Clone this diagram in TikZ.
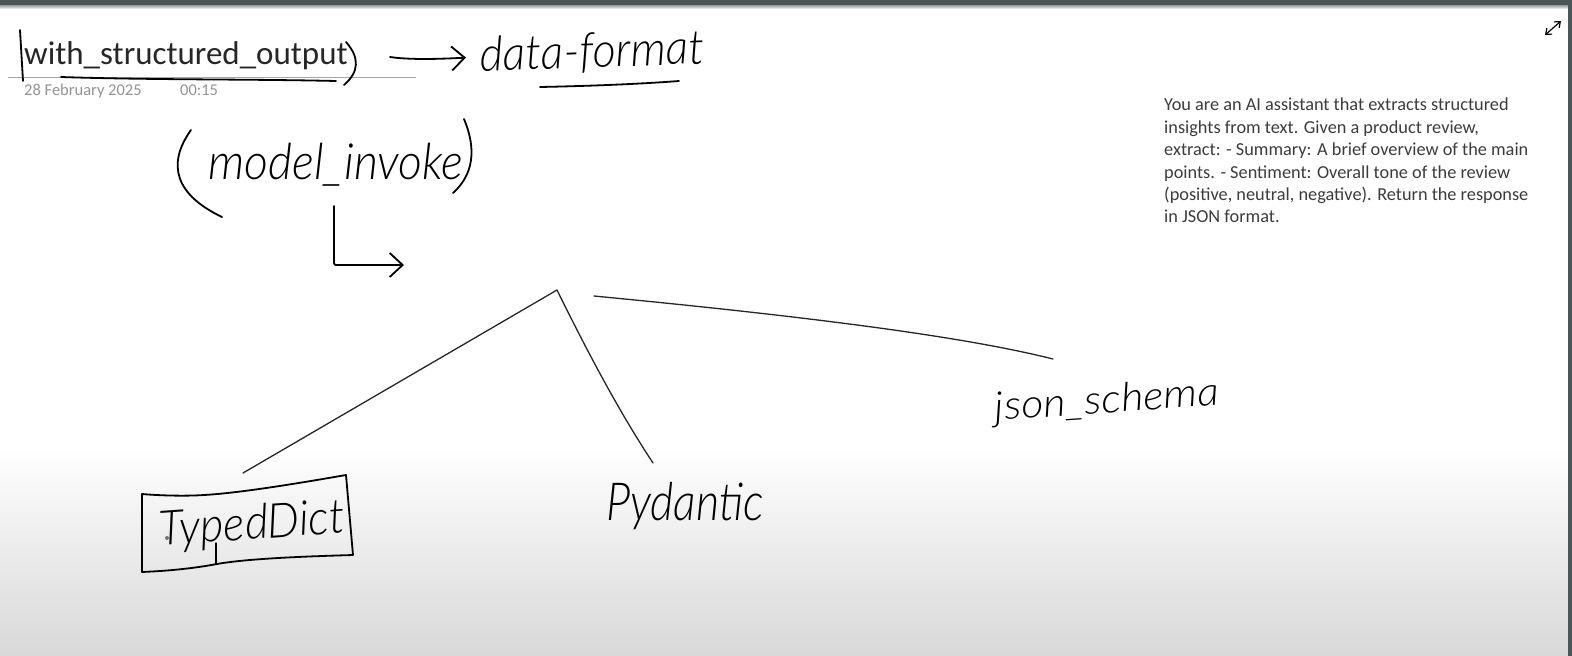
\documentclass[tikz,border=0pt]{standalone}
\usepackage{fontspec}
\setmainfont{Carlito}
\newfontfamily\handfont[ItalicFont={Lato Light Italic}]{Lato Light}
\usetikzlibrary{positioning, arrows.meta}

\definecolor{barcolor}{HTML}{4A5658}
\definecolor{pagegray}{HTML}{D8D8D8}
\definecolor{notecolor}{HTML}{3C3C3C}
\tikzset{
    pen/.style={line width=1.8pt, black, line cap=round, line join=round},
    thinpen/.style={line width=1.3pt, black!85, line cap=round, line join=round},
    penarrow/.style={pen, -{Straight Barb[length=13pt, width=24pt, line width=1.8pt]}},
    hand/.style={font=\handfont\itshape, inner sep=0pt, transform shape},
    stamp/.style={anchor=base west, font=\fontsize{16.5}{18}\selectfont, text=black!42, inner sep=0pt},
}

\begin{document}
\begin{tikzpicture}[x=1pt, y=-1pt]
    \useasboundingbox (0,0) rectangle (1572,656);
    % page
    \fill[white] (0,0) rectangle (1572,656);
    \shade[top color=white, bottom color=pagegray] (0,445) rectangle (1568,656);
    \shade[top color=barcolor!60, bottom color=white] (0,5) rectangle (1568,9);
    \fill[barcolor] (0,0) rectangle (1572,5);
    \fill[barcolor] (1568,0) rectangle (1572,656);
    % expand icon
    \coordinate (E1) at (1545,35);
    \coordinate (E2) at (1561,21);
    \draw[black, line width=1.2pt, {Straight Barb[length=5pt, width=8pt]}-{Straight Barb[length=5pt, width=8pt]}] (E1) -- (E2);

    % title row
    \draw[black!35, line width=1pt] (8,77) -- (416,77);
    \node[anchor=west, font=\fontsize{33}{36}\selectfont, text=black!85, inner sep=0pt] (output) at (24,56) {with\_structured\_output};
    \node[stamp] (date) at (24,95) {28 February 2025};
    \node[stamp] (time) at (180,95) {00:15};
    \draw[pen] (20,30) -- (23,81);
    \draw[pen] (346,42) .. controls (360,58) and (359,72) .. (344,85);
    \draw[pen] (61,77) .. controls (150,80) and (250,79) .. (336,81);
    \node[hand, anchor=center, rotate=2, xscale=1.13, yscale=1.2, font=\handfont\itshape\fontsize{40}{44}\selectfont] (format) at (592,53) {data-format};
    \coordinate (A1) at (390,57);
    \draw[penarrow, shorten >=14pt] (A1) .. controls (410,60) and (440,59) .. (format.west);
    \draw[pen] (540,87) .. controls (590,86) and (640,84) .. (679,81);

    % invoke
    \node[hand, anchor=center, xscale=1.16, yscale=1.25, font=\handfont\itshape\fontsize{40}{44}\selectfont] (invoke) at (336,165) {model\_invoke};
    \draw[pen] (191,130) .. controls (166,165) and (176,195) .. (222,217);
    \draw[pen] (464,119) .. controls (477,150) and (473,175) .. (453,193);
    \coordinate (L1) at (334,206);
    \coordinate (L2) at (404,265);
    \draw[penarrow, rounded corners=2pt] (L1) |- (L2);

    % three branches
    \coordinate (apex) at (557,290);
    \coordinate (B1) at (243,473);
    \coordinate (B2) at (653,463);
    \coordinate (B3) at (594,296);
    \coordinate (B4) at (1053,359);
    \draw[thinpen] (B1) -- (apex) .. controls (592,361) and (622,416) .. (B2);
    \draw[thinpen] (B3) .. controls (802,316) and (962,336) .. (B4);

    \node[hand, anchor=center, rotate=4, xscale=1.13, yscale=1.2, font=\handfont\itshape\fontsize{40}{44}\selectfont] (typed) at (252,526) {TypedDict};
    \draw[pen] (142,494) .. controls (165,496) and (190,496) .. (204,495) .. controls (240,493) and (300,483) .. (346,475) -- (353,555) .. controls (320,556) and (250,558) .. (217,564) .. controls (190,569) and (165,571) .. (142,572) -- cycle;
    \draw[pen, line width=1.2pt] (216,564) -- (216,543);
    \fill[black!55] (167,538) circle (2pt);
    \node[hand, anchor=center, xscale=1.07, yscale=1.25, font=\handfont\itshape\fontsize{42}{46}\selectfont] (pydantic) at (685,506) {Pydantic};
    \node[hand, anchor=center, rotate=4, xscale=1.2, yscale=1.1, font=\handfont\itshape\fontsize{36}{40}\selectfont] (schema) at (1107,402) {json\_schema};

    % prompt note
    \node[anchor=north west, inner sep=0pt, align=left, text=notecolor, font=\fontsize{18.3}{22.4}\selectfont] (note) at (1164,98) {You are an AI assistant that extracts structured\\insights from text. Given a product review,\\extract: - Summary: A brief overview of the main\\points. - Sentiment: Overall tone of the review\\(positive, neutral, negative). Return the response\\in JSON format.};
\end{tikzpicture}
\end{document}
